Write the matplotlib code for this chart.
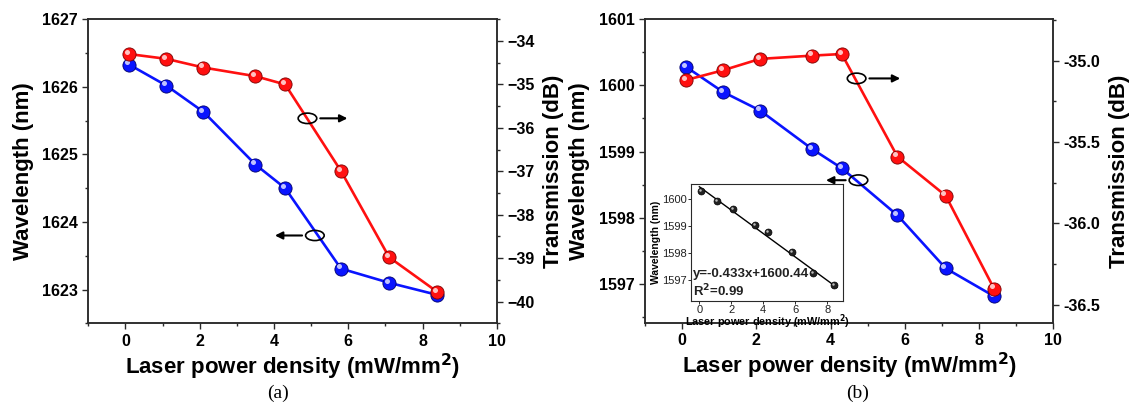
import numpy as np
import matplotlib
matplotlib.use("Agg")
import matplotlib.pyplot as plt
from matplotlib.patches import Ellipse
from matplotlib.ticker import MultipleLocator, FormatStrFormatter
from matplotlib.transforms import offset_copy

plt.rcParams['font.family'] = ['Liberation Sans', 'DejaVu Sans']
plt.rcParams['font.weight'] = 'bold'

# laser power density (mW/mm^2), same for every series
power = [0.1, 1.1, 2.1, 3.5, 4.3, 5.8, 7.1, 8.4]

# panel (a)
wl_a = [1626.33, 1626.02, 1625.63, 1624.85, 1624.50, 1623.31, 1623.10, 1622.92]
tr_a = [-34.30, -34.41, -34.61, -34.81, -35.00, -36.99, -38.98, -39.78]

# panel (b)
wl_b = [1600.28, 1599.90, 1599.62, 1599.04, 1598.75, 1598.04, 1597.24, 1596.82]
tr_b = [-35.12, -35.06, -34.99, -34.97, -34.96, -35.59, -35.83, -36.40]

# linear fit shown in the inset
fit_slope = -0.433
fit_icpt = 1600.44

BLUE = '#0a14ff'
RED = '#ff1010'
SPINE = '#2a2a2a'


def balls(ax, x, y, col, edge, ms=9.5):
    # fake the shaded sphere markers: base ball + small highlight
    ax.plot(x, y, '-', color=col, lw=1.9, zorder=2)
    ax.plot(x, y, 'o', ms=ms, mfc=col, mec=edge, mew=0.6, zorder=3)
    tr = offset_copy(ax.transData, fig=ax.figure, x=-1.6, y=1.6, units='points')
    ax.plot(x, y, 'o', ms=ms * 0.38, mfc='white', mec='none', alpha=0.75,
            transform=tr, zorder=4)


def style(ax):
    for s in ax.spines.values():
        s.set_color(SPINE)
        s.set_linewidth(1.1)
    ax.tick_params(which='both', direction='out', colors=SPINE, labelcolor='black',
                   labelsize=11.5, top=False)
    ax.tick_params(which='major', length=4, width=1.0)
    ax.tick_params(which='minor', length=2.5, width=1.0)
    for lab in ax.get_xticklabels() + ax.get_yticklabels():
        lab.set_fontweight('bold')


def note(ax, ex, ey, eh, x_to):
    # ellipse around the curve plus an arrow pointing to its axis
    ax.add_patch(Ellipse((ex, ey), 0.5, eh, fill=False, ec='black', lw=1.2, zorder=6))
    x_from = ex + 0.27 if x_to > ex else ex - 0.27
    ax.annotate('', xy=(x_to, ey), xytext=(x_from, ey),
                arrowprops=dict(arrowstyle='-|>', color='black', lw=1.5,
                                mutation_scale=11), zorder=6)


fig = plt.figure(figsize=(11.33, 4.05), dpi=100)

# ---------------- panel (a) ----------------
ax_a = fig.add_axes([0.0779, 0.2017, 0.3607, 0.7506])
ax_a2 = ax_a.twinx()
balls(ax_a, power, wl_a, BLUE, '#00006a')
balls(ax_a2, power, tr_a, RED, '#7a0000')
ax_a.set_xlim(-1, 10)
ax_a.set_ylim(1622.5, 1627)
ax_a2.set_ylim(-40.5, -33.5)
ax_a.xaxis.set_major_locator(MultipleLocator(2))
ax_a.xaxis.set_minor_locator(MultipleLocator(1))
ax_a.yaxis.set_major_locator(MultipleLocator(1))
ax_a.yaxis.set_minor_locator(MultipleLocator(0.5))
ax_a2.yaxis.set_major_locator(MultipleLocator(1))
ax_a2.yaxis.set_minor_locator(MultipleLocator(0.5))
for a in (ax_a, ax_a2):
    style(a)
ax_a.set_ylabel('Wavelength (nm)', fontsize=16, fontweight='bold', labelpad=6)
ax_a2.set_ylabel('Transmission (dB)', fontsize=16, fontweight='bold', labelpad=6)
ax_a.set_xlabel('Laser power density (mW/mm$^\\mathbf{2}$)', fontsize=16,
                fontweight='bold', labelpad=2)
ax_a2.set_zorder(ax_a.get_zorder() + 1)
ax_a2.patch.set_visible(False)

note(ax_a2, 4.9, -35.78, 0.24, 6.05)
note(ax_a, 5.1, 1623.8, 0.15, 3.95)
fig.text(0.2455, 0.018, '(a)', family='Liberation Serif', fontweight='normal',
         fontsize=14, ha='center')

# ---------------- panel (b) ----------------
ax_b = fig.add_axes([0.5693, 0.2032, 0.3604, 0.7499])
ax_b2 = ax_b.twinx()
balls(ax_b, power, wl_b, BLUE, '#00006a')
balls(ax_b2, power, tr_b, RED, '#7a0000')
ax_b.set_xlim(-1, 10)
ax_b.set_ylim(1596.42, 1601)
ax_b2.set_ylim(-36.61, -34.745)
ax_b.xaxis.set_major_locator(MultipleLocator(2))
ax_b.xaxis.set_minor_locator(MultipleLocator(1))
ax_b.yaxis.set_major_locator(MultipleLocator(1))
ax_b.yaxis.set_minor_locator(MultipleLocator(0.5))
ax_b2.yaxis.set_major_locator(MultipleLocator(0.5))
ax_b2.yaxis.set_minor_locator(MultipleLocator(0.25))
ax_b2.yaxis.set_major_formatter(FormatStrFormatter('%.1f'))
for a in (ax_b, ax_b2):
    style(a)
ax_b.set_ylabel('Wavelength (nm)', fontsize=16, fontweight='bold', labelpad=6)
ax_b2.set_ylabel('Transmission (dB)', fontsize=16, fontweight='bold', labelpad=6)
ax_b.set_xlabel('Laser power density (mW/mm$^\\mathbf{2}$)', fontsize=16,
                fontweight='bold', labelpad=2)
ax_b2.set_zorder(ax_b.get_zorder() + 1)
ax_b2.patch.set_visible(False)

note(ax_b2, 4.7, -35.11, 0.065, 5.95)
note(ax_b2, 4.75, -35.735, 0.065, 3.8)
fig.text(0.757, 0.018, '(b)', family='Liberation Serif', fontweight='normal',
         fontsize=14, ha='center')

# ---------------- inset ----------------
ax_i = fig.add_axes([0.6102, 0.2580, 0.1340, 0.2869])
ax_i.set_zorder(ax_b2.get_zorder() + 1)
fx = np.array([0.0, 8.6])
ax_i.plot(fx, fit_slope * fx + fit_icpt, '-', color='black', lw=1.0)
ax_i.plot(power, wl_b, 'o', ms=5, mfc='#222222', mec='black', mew=0.5)
tri = offset_copy(ax_i.transData, fig=fig, x=-0.7, y=0.7, units='points')
ax_i.plot(power, wl_b, 'o', ms=1.8, mfc='#bbbbbb', mec='none', transform=tri)
ax_i.set_xlim(-0.5, 9)
ax_i.set_ylim(1596.23, 1600.53)
ax_i.xaxis.set_major_locator(MultipleLocator(2))
ax_i.yaxis.set_major_locator(MultipleLocator(1))
for s in ax_i.spines.values():
    s.set_color(SPINE)
    s.set_linewidth(0.8)
ax_i.tick_params(direction='out', length=2, width=0.7, labelsize=8, pad=1,
                 colors=SPINE, labelcolor='#222222')
for lab in ax_i.get_xticklabels() + ax_i.get_yticklabels():
    lab.set_fontweight('normal')
ax_i.set_ylabel('Wavelength (nm)', fontsize=7.5, fontweight='bold', labelpad=1)
ax_i.set_xlabel('Laser power density (mW/mm$^2$)', fontsize=7.8, fontweight='bold',
                labelpad=-1.5)
ax_i.text(0.01, 0.20, 'y=-0.433x+1600.44', transform=ax_i.transAxes,
          fontsize=9.5, fontweight='bold', color='#222222')
ax_i.text(0.01, 0.04, 'R$^2$=0.99', transform=ax_i.transAxes,
          fontsize=9.5, fontweight='bold', color='#222222')

fig.savefig('out.png', dpi=100)
